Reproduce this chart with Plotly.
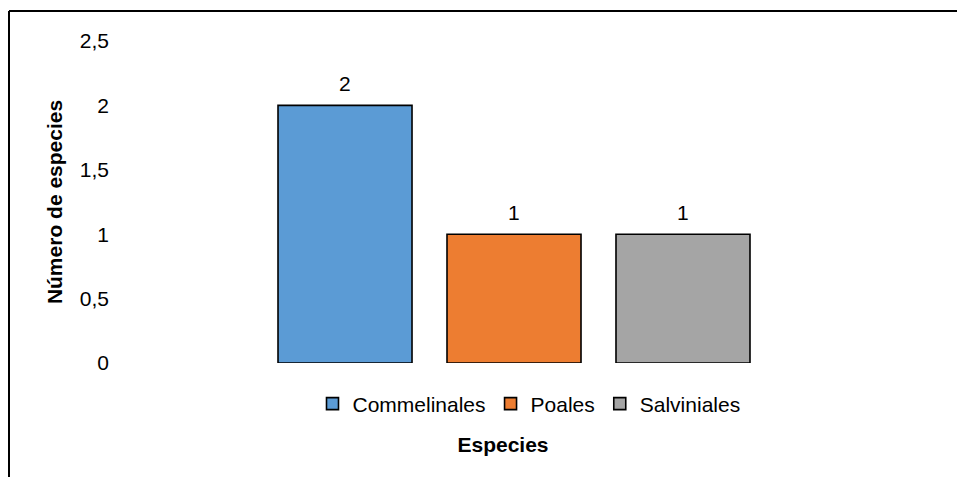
import plotly.graph_objects as go

# ---- data ----
category = ["Especies"]
series_names = ["Commelinales", "Poales", "Salviniales"]
series_values = [2, 1, 1]
series_colors = ["#5B9BD5", "#ED7D31", "#A5A5A5"]
y_tick_vals = [0, 0.5, 1, 1.5, 2, 2.5]
y_tick_text = ["0", "0,5", "1", "1,5", "2", "2,5"]

W, H = 957, 477
L, R, T, B = 110, 896, 41, 363  # plot area in px
BARGAP = 0.355
BARGROUPGAP = 0.207
X_RANGE = [-0.514, 0.486]

FONT = "Liberation Sans, Arial, sans-serif"
FS = 21

fig = go.Figure()
for name, val, col in zip(series_names, series_values, series_colors):
    fig.add_trace(go.Bar(
        x=category, y=[val], name=name,
        marker=dict(color=col, line=dict(color="#000000", width=1.6)),
    ))

pw = R - L
ph = B - T
def px_x(p):
    return (p - L) / pw
def px_y(p):
    return (B - p) / ph

# data labels above each bar (offset from the category centre by the group slot)
n = len(series_names)
slot_px = (1 - BARGAP) / n * pw / (X_RANGE[1] - X_RANGE[0])
annotations = []
for i, val in enumerate(series_values):
    annotations.append(dict(
        x=category[0], y=val, xref="x", yref="y", text=str(val),
        showarrow=False, xshift=(i - (n - 1) / 2) * slot_px, yshift=22,
        yanchor="middle", xanchor="center",
        font=dict(family=FONT, size=FS, color="#000000"),
    ))

fig.update_layout(
    width=W, height=H,
    margin=dict(l=L, r=W - R, t=T, b=H - B, pad=0),
    paper_bgcolor="white", plot_bgcolor="white",
    font=dict(family=FONT, size=FS, color="#000000"),
    barmode="group", bargap=BARGAP, bargroupgap=BARGROUPGAP,
    showlegend=True,
    legend=dict(orientation="h", x=px_x(529), xanchor="center",
                y=px_y(404), yanchor="middle",
                font=dict(family=FONT, size=FS, color="#000000"),
                itemwidth=30, tracegroupgap=0, bgcolor="rgba(0,0,0,0)"),
    xaxis=dict(showticklabels=False, showline=False, showgrid=False,
               zeroline=False, ticks="", range=X_RANGE,
               title=dict(text="<b>Especies</b>", standoff=74,
                          font=dict(family=FONT, size=FS, color="#000000"))),
    yaxis=dict(range=[0, 2.5], tickvals=y_tick_vals, ticktext=y_tick_text,
               showline=False, showgrid=False, zeroline=False, ticks="",
               tickfont=dict(family=FONT, size=FS, color="#000000"),
               title=dict(text="<b>Número de especies</b>", standoff=11,
                          font=dict(family=FONT, size=FS, color="#000000"))),
    annotations=annotations,
    shapes=[
        dict(type="line", xref="paper", yref="paper",
             x0=px_x(9), x1=px_x(960), y0=px_y(11), y1=px_y(11),
             line=dict(color="#000000", width=2)),
        dict(type="line", xref="paper", yref="paper",
             x0=px_x(9), x1=px_x(9), y0=px_y(11), y1=px_y(480),
             line=dict(color="#000000", width=2)),
    ],
)

fig.write_html("out.html")
